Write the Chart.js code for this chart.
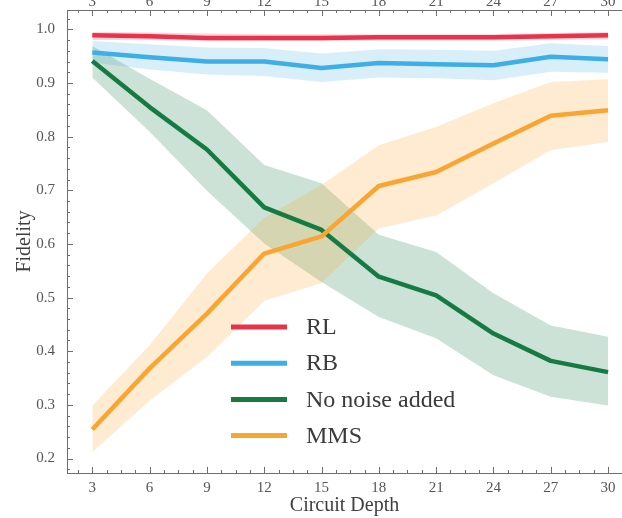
<!DOCTYPE html>
<html>
<head>
<meta charset="utf-8">
<script src="https://cdn.jsdelivr.net/npm/chart.js@4.4.1/dist/chart.umd.min.js"></script>
<style>
  body { margin: 0; background: #fff; }
  canvas { display: block; }
</style>
</head>
<body>
<canvas id="myChart" width="622" height="518"></canvas>
<script>
const depth = [3, 6, 9, 12, 15, 18, 21, 24, 27, 30];
const fidelityTicks = [0.2, 0.3, 0.4, 0.5, 0.6, 0.7, 0.8, 0.9, 1.0];

// mean fidelity and the shaded spread (upper / lower) for each method
const rl      = [0.989, 0.987, 0.984, 0.984, 0.984, 0.985, 0.985, 0.985, 0.987, 0.989];
const rlHigh  = [0.995, 0.994, 0.992, 0.991, 0.991, 0.991, 0.991, 0.991, 0.993, 0.995];
const rlLow   = [0.980, 0.980, 0.978, 0.978, 0.978, 0.979, 0.979, 0.979, 0.980, 0.981];

const rb      = [0.957, 0.948, 0.940, 0.940, 0.928, 0.937, 0.935, 0.933, 0.949, 0.944];
const rbHigh  = [0.978, 0.972, 0.966, 0.965, 0.955, 0.963, 0.962, 0.960, 0.974, 0.969];
const rbLow   = [0.938, 0.925, 0.916, 0.913, 0.902, 0.910, 0.909, 0.905, 0.921, 0.919];

const noNoise     = [0.941, 0.855, 0.776, 0.668, 0.626, 0.539, 0.504, 0.433, 0.382, 0.361];
const noNoiseHigh = [0.969, 0.908, 0.849, 0.747, 0.713, 0.617, 0.585, 0.508, 0.448, 0.427];
const noNoiseLow  = [0.910, 0.809, 0.699, 0.601, 0.529, 0.464, 0.424, 0.355, 0.315, 0.299];

const mms     = [0.254, 0.368, 0.470, 0.582, 0.614, 0.708, 0.734, 0.787, 0.839, 0.849];
const mmsHigh = [0.299, 0.411, 0.545, 0.649, 0.710, 0.784, 0.818, 0.862, 0.902, 0.907];
const mmsLow  = [0.212, 0.308, 0.389, 0.494, 0.527, 0.629, 0.653, 0.713, 0.775, 0.790];

const series = [
  { label: "RL",             mean: rl,      high: rlHigh,      low: rlLow,      color: "#e8334d", band: "rgba(232, 51, 77, 0.2)" },
  { label: "RB",             mean: rb,      high: rbHigh,      low: rbLow,      color: "#3eaee6", band: "rgba(62, 174, 230, 0.2)" },
  { label: "No noise added", mean: noNoise, high: noNoiseHigh, low: noNoiseLow, color: "#157b43", band: "rgba(21, 123, 67, 0.22)" },
  { label: "MMS",            mean: mms,     high: mmsHigh,     low: mmsLow,     color: "#f9a531", band: "rgba(249, 165, 49, 0.22)" }
];

const serif = "'Liberation Serif', 'DejaVu Serif', serif";
const toPoints = arr => depth.map((d, i) => ({ x: d, y: arr[i] }));

// three datasets per method: upper bound (filled down to the next one), lower bound, mean line
const datasets = [];
series.forEach((s, i) => {
  const order = series.length - 1 - i; // later methods are painted on top
  datasets.push({ data: toPoints(s.high), borderWidth: 0, pointRadius: 0, backgroundColor: s.band, fill: '+1', order: order });
  datasets.push({ data: toPoints(s.low), borderWidth: 0, pointRadius: 0, fill: false, order: order });
  datasets.push({
    label: s.label, data: toPoints(s.mean), borderColor: s.color, backgroundColor: s.color,
    borderWidth: 4.5, pointRadius: 0, tension: 0, fill: false, borderJoinStyle: 'round', order: order
  });
});

// frame with inward major/minor ticks, plus the labels along the top edge
const frameTicks = {
  id: 'frameTicks',
  afterDraw(chart) {
    const { ctx, chartArea: a, scales: { x, y } } = chart;
    ctx.save();
    ctx.strokeStyle = '#6e6e6e';
    ctx.lineWidth = 1;
    ctx.beginPath();
    ctx.moveTo(a.left, a.top + 0.5);
    ctx.lineTo(a.right, a.top + 0.5);
    for (let v = 2.25; v <= x.max; v += 0.75) {
      const px = Math.round(x.getPixelForValue(v)) + 0.5;
      const len = depth.includes(v) ? 6 : 3;
      ctx.moveTo(px, a.bottom); ctx.lineTo(px, a.bottom - len);
      ctx.moveTo(px, a.top); ctx.lineTo(px, a.top + len);
    }
    for (let k = 9; k <= 51; k++) {
      const v = k * 0.02;
      if (v < y.min || v > y.max) continue;
      const py = Math.round(y.getPixelForValue(v)) + 0.5;
      const len = k % 5 === 0 ? 6 : 3;
      ctx.moveTo(a.left, py); ctx.lineTo(a.left + len, py);
    }
    ctx.stroke();

    ctx.fillStyle = '#555';
    ctx.font = '15px ' + serif;
    ctx.textAlign = 'center';
    ctx.textBaseline = 'alphabetic';
    depth.forEach(d => ctx.fillText(String(d), x.getPixelForValue(d), a.top - 4.5));
    ctx.restore();
  }
};

// legend placed inside the plot, under the curves
const insideLegend = {
  id: 'insideLegend',
  afterDatasetsDraw(chart) {
    const { ctx, chartArea: a } = chart;
    const lines = chart.data.datasets.filter(ds => ds.label);
    ctx.save();
    ctx.font = '24px ' + serif;
    ctx.fillStyle = '#3a3a3a';
    ctx.textBaseline = 'middle';
    ctx.textAlign = 'left';
    lines.forEach((ds, i) => {
      const yy = a.top + 317 + i * 36.2;
      ctx.strokeStyle = ds.borderColor;
      ctx.lineWidth = 5;
      ctx.beginPath();
      ctx.moveTo(a.left + 164, yy);
      ctx.lineTo(a.left + 220, yy);
      ctx.stroke();
      ctx.fillText(ds.label, a.left + 239, yy + 1);
    });
    ctx.restore();
  }
};

new Chart(document.getElementById("myChart"), {
  type: "line",
  data: { datasets: datasets },
  plugins: [frameTicks, insideLegend],
  options: {
    responsive: false,
    animation: false,
    devicePixelRatio: 1,
    layout: { autoPadding: false, padding: { top: 10, right: 0, bottom: 0, left: 0 } },
    plugins: {
      legend: { display: false },
      tooltip: { enabled: false },
      filler: { drawTime: 'beforeDatasetsDraw' }
    },
    scales: {
      x: {
        type: 'linear',
        min: 1.675,
        max: 30.73,
        afterBuildTicks: scale => { scale.ticks = depth.map(v => ({ value: v })); },
        afterFit: scale => { scale.height = 45; scale.paddingLeft = 0; scale.paddingRight = 0; },
        grid: { drawOnChartArea: false, drawTicks: false },
        border: { display: true, color: '#6e6e6e', width: 1 },
        ticks: { color: '#555', font: { family: serif, size: 15 }, padding: 6, maxRotation: 0 },
        title: { display: true, text: "Circuit Depth", color: '#3f3f3f', font: { family: serif, size: 20 }, padding: { top: 0, bottom: 0 } }
      },
      y: {
        min: 0.173,
        max: 1.036,
        afterBuildTicks: scale => { scale.ticks = fidelityTicks.map(v => ({ value: v })); },
        afterFit: scale => { scale.width = 67; scale.paddingTop = 0; scale.paddingBottom = 0; },
        grid: { drawOnChartArea: false, drawTicks: false },
        border: { display: true, color: '#6e6e6e', width: 1 },
        ticks: { color: '#555', font: { family: serif, size: 15 }, padding: 12, callback: v => v.toFixed(1) },
        title: { display: true, text: "Fidelity", color: '#3f3f3f', font: { family: serif, size: 20 }, padding: { top: 13, bottom: 0 } }
      }
    }
  }
});
</script>
</body>
</html>
